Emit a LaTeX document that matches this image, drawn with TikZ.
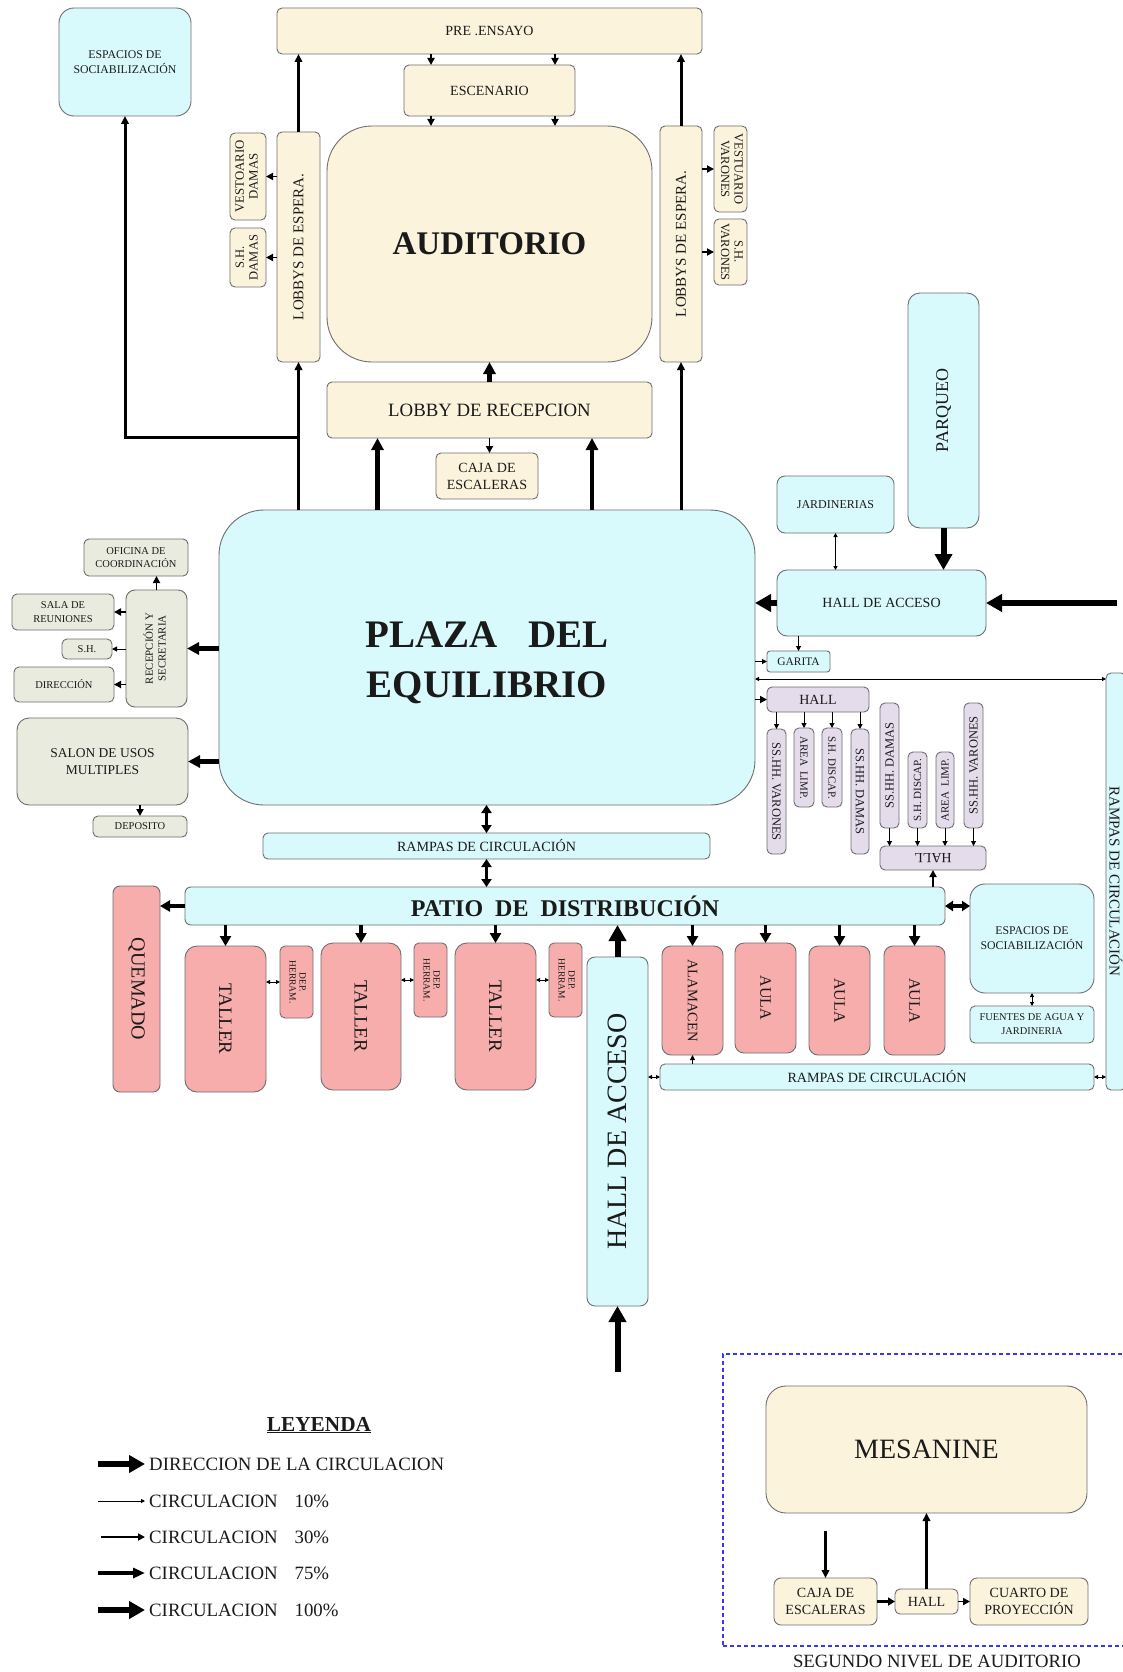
\documentclass[tikz,border=0pt]{standalone}
\usepackage{fontspec}
\setmainfont{Liberation Serif}
\usetikzlibrary{arrows.meta}
\definecolor{cr}{HTML}{FCF3DD}
\definecolor{cy}{HTML}{D9FAFC}
\definecolor{gg}{HTML}{E9EBDF}
\definecolor{pk}{HTML}{F8ADAD}
\definecolor{lv}{HTML}{E4DBEB}
\definecolor{bd}{HTML}{6E6E6E}
\definecolor{tx}{HTML}{1A1A1A}
\definecolor{dbl}{HTML}{3838EE}
\newcommand\rtx[2]{\rotatebox{#1}{\begin{tabular}{@{}c@{}}#2\end{tabular}}}
\newcommand\fz[2]{\fontsize{#1}{#2}\selectfont}
\newcommand{\bxn}[7]{%
 \pgfmathsetmacro\bxcx{(#3+#5)/2}%
 \pgfmathsetmacro\bxcy{(#4+#6)/2}%
 \pgfmathsetmacro\bxww{#5-#3}%
 \pgfmathsetmacro\bxhh{#6-#4}%
 \node[#1, minimum width=\bxww pt, minimum height=\bxhh pt] (#2) at (\bxcx,\bxcy) {#7};}
\tikzset{
 box/.style={draw=bd, line width=0.9pt, rounded corners=5pt, inner sep=0pt, outer sep=0pt, text=tx, align=center},
 cream/.style={box, fill=cr},
 cyanb/.style={box, fill=cy},
 admin/.style={box, fill=gg},
 pink/.style={box, fill=pk},
 lav/.style={box, fill=lv},
 frame/.style={draw=dbl, line width=1.2pt, dash pattern=on 4pt off 3pt, inner sep=0pt, outer sep=0pt},
 conn/.style={draw=black},
 a10/.style={conn, line width=1pt, -{Triangle[length=5pt,width=5pt]}},
 ad10/.style={conn, line width=1pt, {Triangle[length=4pt,width=4pt]}-{Triangle[length=4pt,width=4pt]}},
 a20/.style={conn, line width=1.8pt, -{Triangle[length=7pt,width=7pt]}},
 a30/.style={conn, line width=3pt, -{Triangle[length=8pt,width=7.5pt]}},
 a40/.style={conn, line width=3.2pt, -{Triangle[length=7pt,width=8pt]}},
 a50/.style={conn, line width=3.6pt, -{Triangle[length=10pt,width=11pt]}},
 ad50/.style={conn, line width=3.4pt, {Triangle[length=8pt,width=10pt]}-{Triangle[length=8pt,width=10pt]}},
 a75/.style={conn, line width=4.5pt, -{Triangle[length=12pt,width=12pt]}},
 a100/.style={conn, line width=6pt, -{Triangle[length=16pt,width=17pt]}},
 lg10/.style={conn, line width=0.9pt, -{Triangle[length=4pt,width=4pt]}},
 lg30/.style={conn, line width=2.2pt, -{Triangle[length=7pt,width=7pt]}},
 lg75/.style={conn, line width=4pt, -{Triangle[length=12pt,width=10pt]}},
 lgtext/.style={font=\fz{18.8}{20}, text=tx, anchor=west, inner sep=0pt},
}
\begin{document}
\begin{tikzpicture}[x=1pt,y=-1pt]
\fill[white] (0,0) rectangle (1123,1672);
\useasboundingbox (0,0) rectangle (1123,1672);

% ---------- auditorium block ----------
\bxn{cream,font=\fz{14}{16}}{pre}{277}{8}{702}{54}{PRE .ENSAYO}
\bxn{cream,font=\fz{14}{16}}{esc}{404}{65}{575}{116}{ESCENARIO}
\bxn{cream,rounded corners=45pt,font=\fz{33}{36}\bfseries}{aud}{327}{126}{652}{362}{AUDITORIO}
\bxn{cream,font=\fz{15}{16}}{lobL}{277}{132}{320}{362}{\rotatebox{90}{LOBBYS DE ESPERA.}}
\bxn{cream,font=\fz{12.8}{13.8}}{vesD}{230}{133}{266}{220}{\rtx{90}{VESTOARIO\\DAMAS}}
\bxn{cream,font=\fz{12.5}{13.8}}{shD}{230}{228}{266}{287}{\rtx{90}{S.H.\\DAMAS}}
\bxn{cream,font=\fz{15}{16}}{lobR}{660}{126}{702}{362}{\rotatebox{90}{LOBBYS DE ESPERA.}}
\bxn{cream,font=\fz{12.5}{13.5}}{vesV}{714}{126}{747}{212}{\rtx{-90}{VESTUARIO\\VARONES}}
\bxn{cream,font=\fz{12.5}{13.5}}{shV}{714}{219}{747}{285}{\rtx{-90}{S.H.\\VARONES}}
\bxn{cream,font=\fz{18.8}{20}}{lrec}{327}{382}{652}{438}{LOBBY DE RECEPCION}
\bxn{cream,font=\fz{14}{17}}{caja}{436}{453}{538}{499}{CAJA DE\\ESCALERAS}

% ---------- cyan ----------
\bxn{cyanb,rounded corners=15pt,font=\fz{11.8}{15}}{espL}{59}{8}{191}{116}{ESPACIOS DE\\SOCIABILIZACIÓN}
\bxn{cyanb,rounded corners=45pt,font=\fz{39}{50}\bfseries}{plaza}{219}{510}{755}{805}{\raisebox{-5pt}[\height][\depth]{\begin{tabular}{@{}c@{}}PLAZA\hspace{31pt}DEL\\EQUILIBRIO\end{tabular}}}
\bxn{cyanb,rounded corners=12pt,font=\fz{18}{19}}{parq}{908}{293}{979}{528}{\rotatebox{90}{PARQUEO}}
\bxn{cyanb,rounded corners=8pt,font=\fz{12}{14}}{jard}{777}{476}{894}{533}{JARDINERIAS}
\bxn{cyanb,rounded corners=10pt,font=\fz{14}{16}}{hallA}{777}{570}{986}{636}{HALL DE ACCESO}
\bxn{cyanb,rounded corners=3pt,font=\fz{11.5}{13}}{gar}{767}{651}{830}{672}{GARITA}
\bxn{cyanb,font=\fz{15}{16}}{rampR}{1106}{673}{1126}{1090}{\rotatebox{-90}{RAMPAS DE CIRCULACIÓN}}
\bxn{cyanb,font=\fz{14.1}{15}}{rampC}{263}{833}{710}{859}{RAMPAS DE CIRCULACIÓN}
\bxn{cyanb,rounded corners=6pt,font=\fz{24}{26}\bfseries}{patio}{185}{887}{945}{925}{PATIO\hspace{12pt}DE\hspace{12pt}DISTRIBUCIÓN}
\bxn{cyanb,rounded corners=8pt,font=\fz{28}{30}}{hallV}{587}{957}{648}{1306}{\rotatebox{90}{HALL DE ACCESO}}
\bxn{cyanb,rounded corners=15pt,font=\fz{11.8}{15}}{espR}{970}{884}{1094}{993}{ESPACIOS DE\\SOCIABILIZACIÓN}
\bxn{cyanb,font=\fz{10.4}{14}}{fuen}{970}{1006}{1094}{1043}{FUENTES DE AGUA Y\\JARDINERIA}
\bxn{cyanb,font=\fz{14.1}{15}}{rampB}{660}{1064}{1094}{1090}{RAMPAS DE CIRCULACIÓN}

% ---------- administration ----------
\bxn{admin,font=\fz{10.5}{13.3}}{ofi}{84}{539}{188}{576}{OFICINA DE\\COORDINACIÓN}
\bxn{admin,rounded corners=9pt,font=\fz{10.9}{12.7}}{rec}{126}{590}{187}{707}{\rtx{90}{RECEPCIÓN Y\\SECRETARIA}}
\bxn{admin,font=\fz{10.5}{13.3}}{sala}{12}{594}{114}{630}{SALA DE\\REUNIONES}
\bxn{admin,font=\fz{10.5}{12}}{sh}{62}{639}{112}{659}{S.H.}
\bxn{admin,font=\fz{10.5}{12}}{dir}{14}{667}{114}{702}{DIRECCIÓN}
\bxn{admin,rounded corners=12pt,font=\fz{13.5}{17.3}}{salon}{17}{718}{188}{805}{SALON DE USOS\\MULTIPLES}
\bxn{admin,font=\fz{10.5}{12}}{dep}{93}{816}{187}{837}{DEPOSITO}

% ---------- services (lavender) ----------
\bxn{lav,font=\fz{14}{16}}{hallU}{767}{687}{869}{712}{HALL}
\bxn{lav,font=\fz{12.5}{14}}{ua}{767}{729}{786}{854}{\rotatebox{-90}{SS.HH. VARONES}}
\bxn{lav,font=\fz{11}{13}}{ub}{794}{728}{814}{807}{\rotatebox{-90}{AREA\hspace{5pt}LIMP.}}
\bxn{lav,font=\fz{11}{13}}{uc}{822}{728}{842}{807}{\rotatebox{-90}{S.H. DISCAP.}}
\bxn{lav,font=\fz{12.5}{14}}{ud}{851}{729}{869}{854}{\rotatebox{-90}{SS.HH. DAMAS}}
\bxn{lav,font=\fz{12.5}{14}}{la}{880}{703}{899}{828}{\rotatebox{90}{SS.HH. DAMAS}}
\bxn{lav,font=\fz{11}{13}}{lb}{908}{752}{927}{828}{\rotatebox{90}{S.H. DISCAP.}}
\bxn{lav,font=\fz{11}{13}}{lc}{936}{752}{954}{828}{\rotatebox{90}{AREA\hspace{5pt}LIMP.}}
\bxn{lav,font=\fz{12.5}{14}}{ld}{964}{703}{983}{828}{\rotatebox{90}{SS.HH. VARONES}}
\bxn{lav,font=\fz{14}{16}}{hallL}{880}{846}{986}{870}{\rotatebox{180}{HALL}}

% ---------- workshops (pink) ----------
\bxn{pink,rounded corners=7pt,font=\fz{20}{21}}{quem}{113}{886}{160}{1092}{\rotatebox{-90}{QUEMADO}}
\bxn{pink,rounded corners=12pt,font=\fz{19}{21}}{ta}{185}{946}{266}{1092}{\rotatebox{-90}{TALLER}}
\bxn{pink,font=\fz{9.5}{10}}{da}{280}{946}{313}{1018}{\rtx{-90}{DEP.\\HERRAM.}}
\bxn{pink,rounded corners=12pt,font=\fz{19}{21}}{tb}{321}{943}{401}{1090}{\rotatebox{-90}{TALLER}}
\bxn{pink,font=\fz{9.5}{10}}{db}{414}{943}{447}{1017}{\rtx{-90}{DEP.\\HERRAM.}}
\bxn{pink,rounded corners=12pt,font=\fz{19}{21}}{tc}{455}{943}{536}{1090}{\rotatebox{-90}{TALLER}}
\bxn{pink,font=\fz{9.5}{10}}{dc}{549}{943}{582}{1017}{\rtx{-90}{DEP.\\HERRAM.}}
\bxn{pink,rounded corners=9pt,font=\fz{14.5}{16}}{alm}{662}{946}{723}{1055}{\rotatebox{-90}{ALAMACEN}}
\bxn{pink,rounded corners=9pt,font=\fz{16}{18}}{aa}{735}{943}{796}{1053}{\rotatebox{-90}{AULA}}
\bxn{pink,rounded corners=9pt,font=\fz{16}{18}}{ab}{809}{946}{870}{1055}{\rotatebox{-90}{AULA}}
\bxn{pink,rounded corners=9pt,font=\fz{16}{18}}{ac}{884}{946}{945}{1055}{\rotatebox{-90}{AULA}}

% ---------- second level ----------
\bxn{frame}{sgframe}{723}{1354}{1130}{1646}{}
\bxn{cream,rounded corners=20pt,font=\fz{28}{30}}{mes}{766}{1386}{1087}{1513}{MESANINE}
\bxn{cream,rounded corners=7pt,font=\fz{14}{17.3}}{caja2}{774}{1578}{877}{1625}{CAJA DE\\ESCALERAS}
\bxn{cream,font=\fz{14}{16}}{hall2}{895}{1589}{958}{1614}{HALL}
\bxn{cream,rounded corners=7pt,font=\fz{14}{17.3}}{cuar}{970}{1578}{1088}{1625}{CUARTO DE\\PROYECCIÓN}
\node[font=\fz{18.7}{20}, text=tx, inner sep=0pt] (sgl) at (937,1661) {SEGUNDO NIVEL DE AUDITORIO};

% ---------- connectors ----------
\coordinate (xa) at (431,0);
\coordinate (xb) at (555,0);
\coordinate (xc) at (377.5,0);
\coordinate (xd) at (592,0);
\coordinate (yr) at (0,679);
\coordinate (ein) at (1117,603);
\coordinate (bin) at (617.5,1372);
\coordinate (min) at (825.5,1531);

\draw[a20] (pre.south -| xa) -- (esc.north -| xa);
\draw[a20] (pre.south -| xb) -- (esc.north -| xb);
\draw[a20] (esc.south -| xa) -- (aud.north -| xa);
\draw[a20] (esc.south -| xb) -- (aud.north -| xb);
\draw[a30] (lobL.north) -- (pre.south -| lobL);
\draw[a30] (lobR.north) -- (pre.south -| lobR);
\draw[a30] (plaza.north -| lobL) -- (lobL.south);
\draw[a30] (plaza.north -| lobR) -- (lobR.south);
\path (lobL.south) ++(0,75) coordinate (j1);
\draw[a30] (j1) -| (espL.south);
\draw[a20] (lobL.west |- vesD) -- (vesD.east);
\draw[a20] (lobL.west |- shD) -- (shD.east);
\draw[a20] (lobR.east |- vesV) -- (vesV.west);
\draw[a20] (lobR.east |- shV) -- (shV.west);
\draw[a75] (lrec.north) -- (aud.south);
\draw[a75] (plaza.north -| xc) -- (lrec.south -| xc);
\draw[a75] (plaza.north -| xd) -- (lrec.south -| xd);
\draw[a20] (lrec.south) -- (lrec.south |- caja.north);

\draw[a75] (plaza.west |- rec) -- (rec.east);
\draw[a75] (plaza.west |- salon) -- (salon.east);
\draw[a20] (rec.north) -- (rec.north |- ofi.south);
\draw[a20] (rec.west |- sala) -- (sala.east);
\draw[a10] (rec.west |- sh) -- (sh.east);
\draw[a20] (rec.west |- dir) -- (dir.east);
\draw[a20] (dep.north |- salon.south) -- (dep.north);

\draw[ad10] (jard.south) -- (hallA.north -| jard);
\draw[a100] (parq.south) -- (hallA.north -| parq);
\draw[a100] (ein) -- (hallA.east);
\draw[a100] (hallA.west) -- (plaza.east |- hallA);
\draw[a10] (hallA.south -| gar) -- (gar.north);
\draw[a10] (plaza.east |- gar) -- (gar.west);
\draw[ad10] (plaza.east |- yr) -- (rampR.west |- yr);
\draw[a20] (plaza.east |- hallU) -- (hallU.west);
\foreach \n in {ua,ub,uc,ud} \draw[a10] (hallU.south -| \n) -- (\n.north);
\foreach \n in {la,lb,lc,ld} \draw[a10] (\n.south) -- (hallL.north -| \n);
\draw[a20] (patio.north -| hallL) -- (hallL.south);

\draw[ad50] (plaza.south -| rampC) -- (rampC.north);
\draw[ad50] (rampC.south) -- (patio.north -| rampC);
\draw[a50] (patio.west) -- (quem.east |- patio);
\foreach \n in {ta,tb,tc,alm,aa,ab,ac} \draw[a50] (patio.south -| \n) -- (\n.north);
\draw[ad10] (ta.east |- da) -- (da.west);
\draw[ad10] (tb.east |- db) -- (db.west);
\draw[ad10] (tc.east |- dc) -- (dc.west);
\draw[a100] (hallV.north) -- (patio.south -| hallV);
\draw[a100] (bin) -- (hallV.south);
\draw[ad50] (patio.east) -- (espR.west |- patio);
\draw[ad10] (espR.south) -- (fuen.north);
\draw[a10] (rampB.north -| alm) -- (alm.south);
\draw[ad10] (hallV.east |- rampB) -- (rampB.west);
\draw[ad10] (rampB.east) -- (rampR.west |- rampB);

\draw[a30] (min) -- (caja2.north);
\draw[a30] (hall2.north) -- (mes.south -| hall2);
\draw[a40] (caja2.east |- hall2) -- (hall2.west);
\draw[a20] (hall2.east) -- (cuar.west |- hall2);

% ---------- legend ----------
\node[font=\fz{21.3}{22}\bfseries, text=tx] (ley) at (319,1425) {\underline{LEYENDA}};
\coordinate (l1s) at (98,1464);  \coordinate (l1e) at (145,1464);
\coordinate (l2s) at (98,1501);  \coordinate (l2e) at (145,1501);
\coordinate (l3s) at (101,1537); \coordinate (l3e) at (145,1537);
\coordinate (l4s) at (98,1573);  \coordinate (l4e) at (145,1573);
\coordinate (l5s) at (98,1610);  \coordinate (l5e) at (145,1610);
\draw[a100] (l1s) -- (l1e);
\draw[lg10] (l2s) -- (l2e);
\draw[lg30] (l3s) -- (l3e);
\draw[lg75] (l4s) -- (l4e);
\draw[a100] (l5s) -- (l5e);
\node[lgtext] (lt1) at (149,1464) {DIRECCION DE LA CIRCULACION};
\node[lgtext] (lt2) at (149,1501) {CIRCULACION\hspace{17pt}10\%};
\node[lgtext] (lt3) at (149,1537) {CIRCULACION\hspace{17pt}30\%};
\node[lgtext] (lt4) at (149,1573) {CIRCULACION\hspace{17pt}75\%};
\node[lgtext] (lt5) at (149,1610) {CIRCULACION\hspace{17pt}100\%};
\end{tikzpicture}
\end{document}
